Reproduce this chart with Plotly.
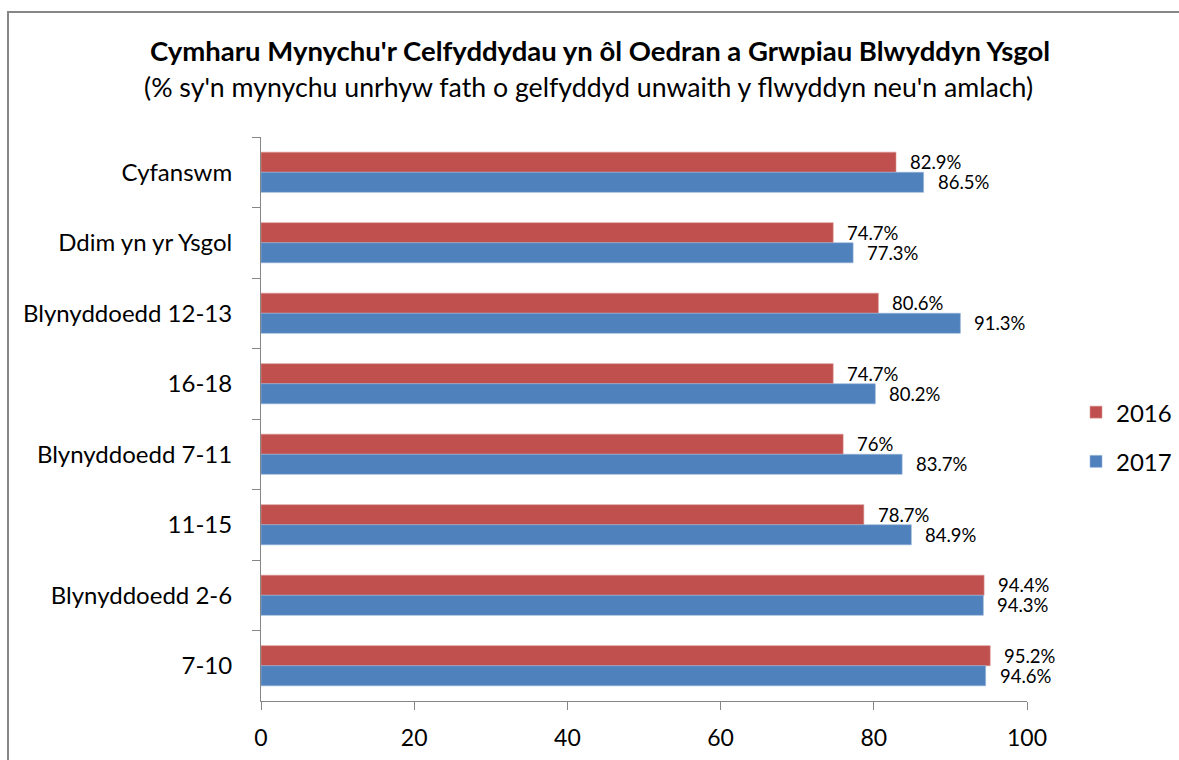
import plotly.graph_objects as go

categories = ["Cyfanswm", "Ddim yn yr Ysgol", "Blynyddoedd 12-13", "16-18",
              "Blynyddoedd 7-11", "11-15", "Blynyddoedd 2-6", "7-10"]
values_2016 = [82.9, 74.7, 80.6, 74.7, 76.0, 78.7, 94.4, 95.2]
values_2017 = [86.5, 77.3, 91.3, 80.2, 83.7, 84.9, 94.3, 94.6]
labels_2016 = ["82.9%", "74.7%", "80.6%", "74.7%", "76%", "78.7%", "94.4%", "95.2%"]
labels_2017 = ["86.5%", "77.3%", "91.3%", "80.2%", "83.7%", "84.9%", "94.3%", "94.6%"]
x_ticks = [0, 20, 40, 60, 80, 100]

title_text = "Cymharu Mynychu'r Celfyddydau yn ôl Oedran a Grwpiau Blwyddyn Ysgol"
subtitle_text = "(% sy'n mynychu unrhyw fath o gelfyddyd unwaith y flwyddyn neu'n amlach)"

FONT = "Lato"
RED = "#C0504D"
BLUE = "#4F81BD"
AXIS = "#868686"

fig = go.Figure()
fig.add_trace(go.Bar(y=categories, x=values_2016, name="2016", orientation="h",
                     marker=dict(color=RED, line=dict(color="#D99795", width=0.6)),
                     legendgroup="a"))
fig.add_trace(go.Bar(y=categories, x=values_2017, name="2017", orientation="h",
                     marker=dict(color=BLUE, line=dict(color="#95B3D7", width=0.6)),
                     legendgroup="b"))

annotations = []
for cat, v, t in zip(categories, values_2016, labels_2016):
    annotations.append(dict(x=v, y=cat, xref="x", yref="y", text=t, showarrow=False,
                            xanchor="left", yanchor="middle", xshift=12, yshift=10,
                            font=dict(family=FONT, size=18.5, color="#000000")))
for cat, v, t in zip(categories, values_2017, labels_2017):
    annotations.append(dict(x=v, y=cat, xref="x", yref="y", text=t, showarrow=False,
                            xanchor="left", yanchor="middle", xshift=12, yshift=-10,
                            font=dict(family=FONT, size=18.5, color="#000000")))

annotations.append(dict(x=0.4426, y=1.154, xref="paper", yref="paper", text="<b>" + title_text + "</b>",
                        showarrow=False, xanchor="center", yanchor="middle",
                        font=dict(family=FONT, size=27.5, color="#000000")))
annotations.append(dict(x=0.427, y=1.0887, xref="paper", yref="paper", text=subtitle_text,
                        showarrow=False, xanchor="center", yanchor="middle",
                        font=dict(family=FONT, size=26.7, color="#000000")))

fig.update_layout(
    width=1179, height=760,
    margin=dict(l=261, r=152, t=137, b=59, autoexpand=False),
    paper_bgcolor="white", plot_bgcolor="white",
    barmode="group", bargap=0.43, bargroupgap=0,
    font=dict(family=FONT, size=24, color="#000000"),
    showlegend=True,
    legend=dict(x=1.064, y=0.468, xanchor="left", yanchor="middle",
                traceorder="grouped", tracegroupgap=15,
                font=dict(family=FONT, size=24, color="#000000"),
                bgcolor="rgba(0,0,0,0)"),
    annotations=annotations,
    shapes=[dict(type="rect", xref="paper", yref="paper",
                 x0=-0.3303, x1=1.206, y0=-0.122, y1=1.2216,
                 line=dict(color="#868686", width=2), fillcolor="rgba(0,0,0,0)")],
)

fig.update_xaxes(range=[0, 100], tickvals=x_ticks, ticktext=[str(v) for v in x_ticks],
                 showgrid=False, zeroline=False, showline=True, linecolor=AXIS, linewidth=1,
                 ticks="outside", ticklen=8, tickcolor=AXIS, tickwidth=1, ticklabelstandoff=8,
                 tickfont=dict(family=FONT, size=23, color="#000000"), fixedrange=True)
fig.update_yaxes(autorange="reversed", type="category", showgrid=False, zeroline=False,
                 showline=True, linecolor=AXIS, linewidth=1,
                 ticks="outside", ticklen=8, tickcolor=AXIS, tickwidth=1, tickson="boundaries",
                 ticklabelstandoff=23,
                 tickfont=dict(family=FONT, size=24, color="#000000"), fixedrange=True)

fig.write_html("out.html", config={"displayModeBar": False},
               post_script="document.body.style.margin='0';document.body.style.overflow='hidden';")
